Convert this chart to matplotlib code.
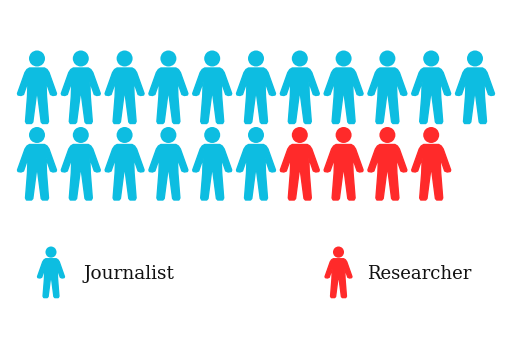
import matplotlib
matplotlib.use('Agg')
import matplotlib.pyplot as plt
from matplotlib.patches import Circle, Polygon
from matplotlib.transforms import Affine2D

# counts
labels = ['Journalist', 'Researcher']
counts = [17, 4]
colors = ['#0dbde1', '#ff2a2a']
per_row = 11

# right half of the figure outline, mirrored below
half_x = [0, 7.5, 10, 12, 19.5, 19, 16, 13.5, 9, 9.5, 11.5, 10.5, 5.5, 4.2, 0.6, 0]
half_y = [17.5, 17.5, 19, 22, 43, 44.5, 45, 44, 31, 46, 71, 73, 73, 71.5, 44, 43.5]
outline = list(zip(half_x, half_y)) + list(zip([-v for v in half_x[::-1]], half_y[::-1]))


def draw_person(ax, cx, top, color, sx=1.0, sy=1.0):
    tr = Affine2D().scale(sx, sy).translate(cx, top) + ax.transData
    ax.add_patch(Polygon(outline, closed=True, fc=color, ec=color, lw=1.0,
                         joinstyle='round', transform=tr))
    ax.add_patch(Circle((0, 8), 8, fc=color, ec='none', transform=tr))


fig = plt.figure(figsize=(5.12, 3.62), dpi=100)
ax = fig.add_axes([0, 0, 1, 1])
ax.set_xlim(0, 512)
ax.set_ylim(362, 0)
ax.axis('off')

people = [colors[0]] * counts[0] + [colors[1]] * counts[1]
for i, c in enumerate(people):
    col = i % per_row
    row = i // per_row
    draw_person(ax, 37 + col * 43.8, 50.5 + row * 76.5, c)

# legend
draw_person(ax, 51, 246.5, colors[0], 0.69, 0.70)
draw_person(ax, 338.5, 246.5, colors[1], 0.69, 0.70)
ax.text(83, 279, labels[0], family='DejaVu Serif', fontsize=13.3, color='#111111', va='baseline')
ax.text(367, 279, labels[1], family='DejaVu Serif', fontsize=13, color='#111111', va='baseline')

fig.savefig('out.png', dpi=100)
